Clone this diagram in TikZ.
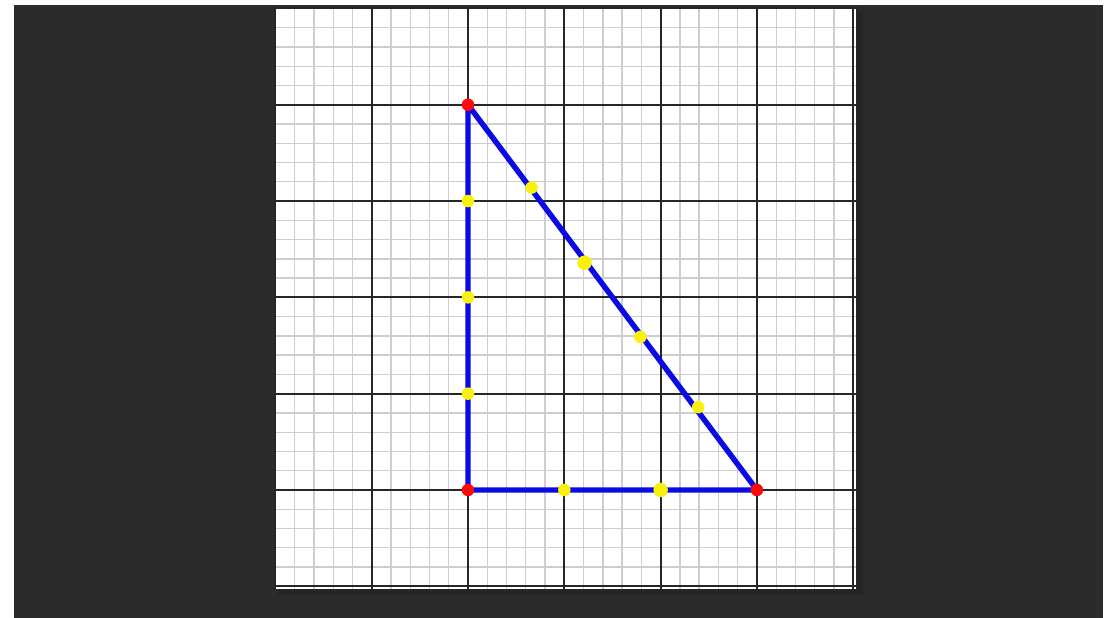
\documentclass[tikz,border=0pt]{standalone}
\usepackage{amsmath}

\definecolor{bg}{HTML}{2B2B2B}
\definecolor{shadowgray}{HTML}{252525}
\definecolor{minorline}{HTML}{CDCDD2}
\definecolor{majorline}{HTML}{262626}
\definecolor{sideblue}{HTML}{0A0AE6}
\definecolor{dotred}{HTML}{FF0A0A}
\definecolor{dotyellow}{HTML}{F8F20A}

\tikzset{
  minorgrid/.style={minorline, line width=0.4pt},
  majorgrid/.style={majorline, line width=0.6pt},
  triangle side/.style={sideblue, line width=1.6pt, line join=round},
  corner/.style={fill=dotred, draw=none},
  mark point/.style={fill=dotyellow, draw=none}
}

\begin{document}
\begin{tikzpicture}
    %Bakgrunn
        \fill[white] (-4.860,-1.329) rectangle (6.739,5.088);
        \fill[bg] (-4.714,-1.329) rectangle (6.594,5.036);
        \useasboundingbox (-4.860,-1.329) rectangle (6.739,5.088);

    %Rutepapir
        \fill[shadowgray] (-1.97,-1.09) rectangle (4.10,4.97);
        \fill[white] (-2.01,-1.03) rectangle (4.04,5.01);
        \draw[minorgrid, step=0.2] (-2.01,-1.03) grid (4.04,5.01);
        \draw[majorgrid, step=1] (-2.01,-1.03) grid (4.04,5.01);
        \draw[majorline, line width=0.4pt] (-2.01,-1.03) rectangle (4.04,5.01);

    %Trekant
        \coordinate (O) at (0,0);
        \coordinate (A) at (0,4);
        \coordinate (B) at (3,0);
        \draw[triangle side] (O) -- (A) -- (B) -- cycle;

    %Punkter
        \filldraw[mark point] (0,1) circle (0.065);
        \filldraw[mark point] (0,2) circle (0.065);
        \filldraw[mark point] (0,3) circle (0.065);
        %
        \filldraw[mark point] (1,0) circle (0.065);
        \filldraw[mark point] (2,0) circle (0.075);
        %
        \filldraw[mark point] (0.66,3.14) circle (0.065);
        \filldraw[mark point] (1.21,2.36) circle (0.075);
        \filldraw[mark point] (1.79,1.59) circle (0.065);
        \filldraw[mark point] (2.39,0.86) circle (0.065);
        %
        \filldraw[corner] (O) circle (0.065);
        \filldraw[corner] (A) circle (0.065);
        \filldraw[corner] (B) circle (0.065);

\end{tikzpicture}
\end{document}
